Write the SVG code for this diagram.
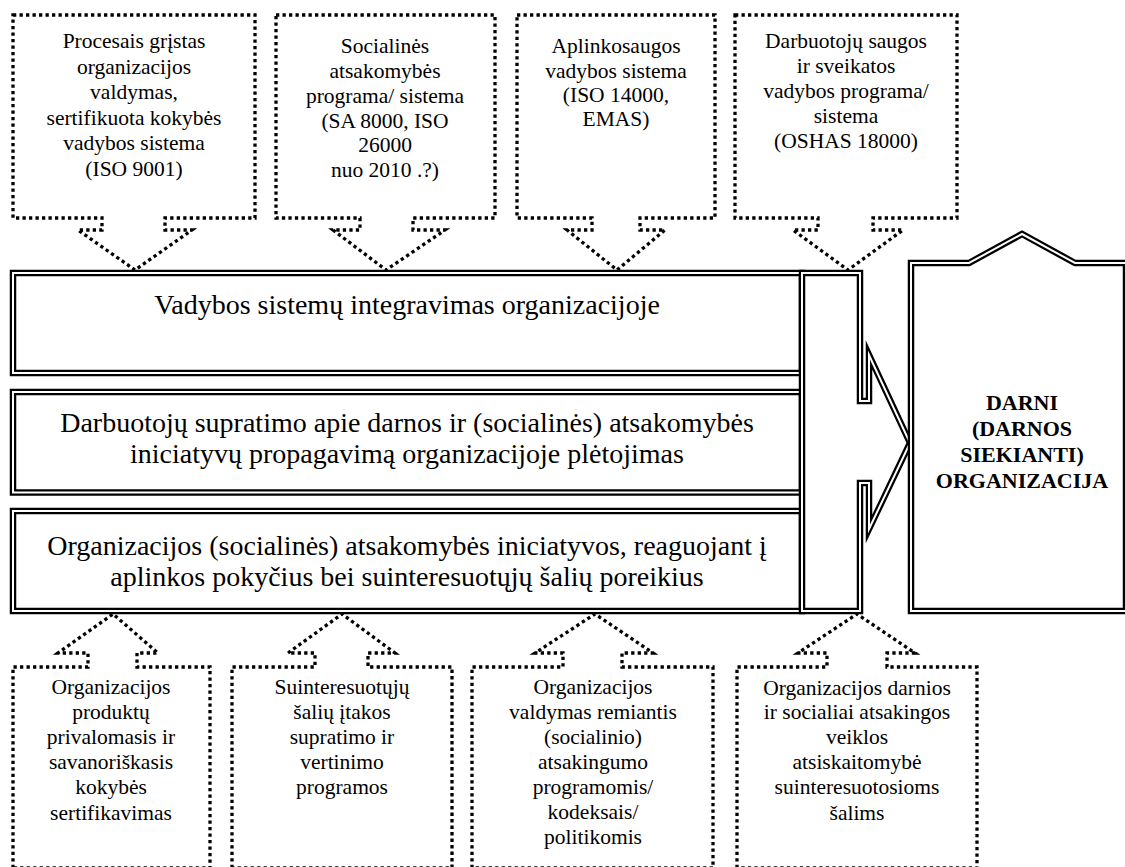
<svg xmlns="http://www.w3.org/2000/svg" xmlns:xlink="http://www.w3.org/1999/xlink" width="1125" height="867" viewBox="0 0 1125 867">
<style>
  .dot { fill: none; stroke: #000; stroke-width: 3.3; stroke-dasharray: 3.3 3.2; stroke-linejoin: miter; }
  .dblo { fill: #fff; stroke: #000; stroke-width: 6.5; stroke-linejoin: miter; stroke-miterlimit: 10; }
  .dbli { fill: none; stroke: #fff; stroke-width: 2; stroke-linejoin: miter; stroke-miterlimit: 10; }
  .t { font-family: "Liberation Serif", "Times New Roman", serif; font-size: 21.5px; fill: #000; text-anchor: middle; }
  .tb { font-family: "Liberation Serif", "Times New Roman", serif; font-size: 28px; fill: #000; text-anchor: middle; }
  .tt { font-family: "Liberation Serif", "Times New Roman", serif; font-size: 22px; font-weight: bold; fill: #000; text-anchor: middle; }
</style>
<defs>
  <rect id="bar1" x="13" y="273" width="789" height="100"/>
  <rect id="bar2" x="13" y="392" width="789" height="100.5"/>
  <rect id="bar3" x="13" y="511" width="789" height="100"/>
  <polygon id="arrowShape" points="802,273 860,273 860,401 869,401 869,355 910,443 869,529 869,483 860,483 860,611 802,611"/>
  <polygon id="goalShape" points="911,611 911,263 969,263 1022,234 1075,263 1126,263 1126,611"/>
</defs>
<rect width="1125" height="867" fill="#fff"/>

<g id="bar-integravimas">
  <use xlink:href="#bar1" class="dblo"/>
  <use xlink:href="#bar1" class="dbli"/>
  <text class="tb" x="407" y="314">Vadybos sistemų integravimas organizacijoje</text>
</g>
<g id="bar-supratimas">
  <use xlink:href="#bar2" class="dblo"/>
  <use xlink:href="#bar2" class="dbli"/>
  <text class="tb" x="407" y="432">Darbuotojų supratimo apie darnos ir (socialinės) atsakomybės</text>
  <text class="tb" x="407" y="463">iniciatyvų propagavimą organizacijoje plėtojimas</text>
</g>
<g id="bar-iniciatyvos">
  <use xlink:href="#bar3" class="dblo"/>
  <use xlink:href="#bar3" class="dbli"/>
  <text class="tb" x="407" y="555">Organizacijos (socialinės) atsakomybės iniciatyvos, reaguojant į</text>
  <text class="tb" x="407" y="586">aplinkos pokyčius bei suinteresuotųjų šalių poreikius</text>
</g>

<g id="connectors">
  <use xlink:href="#arrowShape" class="dblo"/>
  <use xlink:href="#arrowShape" class="dbli"/>
</g>

<g id="darni-organizacija">
  <use xlink:href="#goalShape" class="dblo"/>
  <use xlink:href="#goalShape" class="dbli"/>
  <text class="tt" x="1022" y="410">DARNI</text>
  <text class="tt" x="1022" y="436">(DARNOS</text>
  <text class="tt" x="1022" y="462">SIEKIANTI)</text>
  <text class="tt" x="1022" y="488">ORGANIZACIJA</text>
</g>

<g id="top-iso9001">
  <path class="dot" d="M13,15 H255 V218 H165 V230 H192 L135,270 L78,230 H102 V218 H13 Z"/>
  <text class="t" x="134" y="48">Procesais grįstas</text>
  <text class="t" x="134" y="74">organizacijos</text>
  <text class="t" x="134" y="99">valdymas,</text>
  <text class="t" x="134" y="125">sertifikuota kokybės</text>
  <text class="t" x="134" y="150">vadybos sistema</text>
  <text class="t" x="134" y="176">(ISO 9001)</text>
</g>
<g id="top-sa8000">
  <path class="dot" d="M276,15 H495 V218 H413 V230 H445 L386,270 L333,230 H360 V218 H276 Z"/>
  <text class="t" x="385" y="53">Socialinės</text>
  <text class="t" x="385" y="78">atsakomybės</text>
  <text class="t" x="385" y="103">programa/ sistema</text>
  <text class="t" x="385" y="128">(SA 8000, ISO</text>
  <text class="t" x="385" y="152">26000</text>
  <text class="t" x="385" y="177">nuo 2010 .?)</text>
</g>
<g id="top-iso14000">
  <path class="dot" d="M517,15 H715 V218 H640 V230 H665 L617,270 L567,230 H592 V218 H517 Z"/>
  <text class="t" x="616" y="53">Aplinkosaugos</text>
  <text class="t" x="616" y="78">vadybos sistema</text>
  <text class="t" x="616" y="102">(ISO 14000,</text>
  <text class="t" x="616" y="126">EMAS)</text>
</g>
<g id="top-oshas18000">
  <path class="dot" d="M735,15 H957 V218 H873 V230 H903 L848,270 L793,230 H818 V218 H735 Z"/>
  <text class="t" x="846" y="48">Darbuotojų saugos</text>
  <text class="t" x="846" y="73">ir sveikatos</text>
  <text class="t" x="846" y="98">vadybos programa/</text>
  <text class="t" x="846" y="123">sistema</text>
  <text class="t" x="846" y="148">(OSHAS 18000)</text>
</g>

<g id="bottom-sertifikavimas">
  <path class="dot" d="M13,868 V667 H88 V653 H58 L113,614 L158,653 H137 V667 H210 V868 Z"/>
  <text class="t" x="111" y="694">Organizacijos</text>
  <text class="t" x="111" y="719">produktų</text>
  <text class="t" x="111" y="744">privalomasis ir</text>
  <text class="t" x="111" y="769">savanoriškasis</text>
  <text class="t" x="111" y="794">kokybės</text>
  <text class="t" x="111" y="820">sertifikavimas</text>
</g>
<g id="bottom-suinteresuotieji">
  <path class="dot" d="M232,868 V667 H315 V653 H288 L342,614 L395,653 H368 V667 H452 V868 Z"/>
  <text class="t" x="342" y="694">Suinteresuotųjų</text>
  <text class="t" x="342" y="719">šalių įtakos</text>
  <text class="t" x="342" y="744">supratimo ir</text>
  <text class="t" x="342" y="769">vertinimo</text>
  <text class="t" x="342" y="794">programos</text>
</g>
<g id="bottom-valdymas">
  <path class="dot" d="M472,868 V667 H563 V653 H535 L595,614 L653,653 H622 V667 H713 V868 Z"/>
  <text class="t" x="593" y="694">Organizacijos</text>
  <text class="t" x="593" y="719">valdymas remiantis</text>
  <text class="t" x="593" y="744">(socialinio)</text>
  <text class="t" x="593" y="769">atsakingumo</text>
  <text class="t" x="593" y="794">programomis/</text>
  <text class="t" x="593" y="819">kodeksais/</text>
  <text class="t" x="593" y="844">politikomis</text>
</g>
<g id="bottom-atsiskaitomybe">
  <path class="dot" d="M737,868 V667 H827 V653 H798 L857,614 L915,653 H887 V667 H977 V868 Z"/>
  <text class="t" x="857" y="695">Organizacijos darnios</text>
  <text class="t" x="857" y="719">ir socialiai atsakingos</text>
  <text class="t" x="857" y="744">veiklos</text>
  <text class="t" x="857" y="769">atsiskaitomybė</text>
  <text class="t" x="857" y="794">suinteresuotosioms</text>
  <text class="t" x="857" y="820">šalims</text>
</g>
</svg>
